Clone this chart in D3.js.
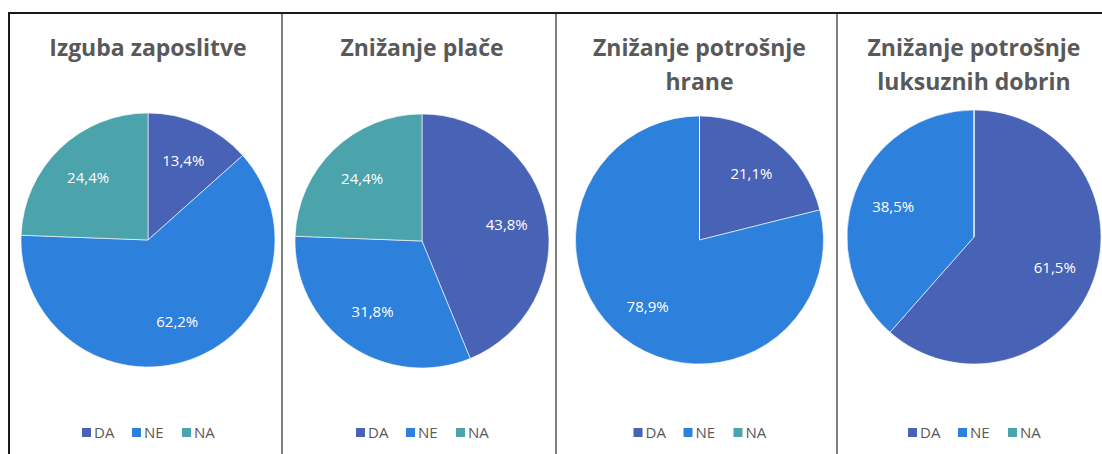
<!DOCTYPE html>
<html>
<head>
<meta charset="utf-8">
<script src="https://cdn.jsdelivr.net/npm/d3@7"></script>
<style>
  html, body { margin: 0; padding: 0; background: #fff; }
  svg { display: block; }
</style>
</head>
<body>
<div id="chart"></div>
<script>
(function() {
    'use strict';

    // data ---------------------------------------------------------
    const categories = ['DA', 'NE', 'NA'];
    const titles = [
        ['Izguba zaposlitve'],
        ['Znižanje plače'],
        ['Znižanje potrošnje', 'hrane'],
        ['Znižanje potrošnje', 'luksuznih dobrin']
    ];
    const valuesIzguba = [13.4, 62.2, 24.4];
    const valuesPlaca = [43.8, 31.8, 24.4];
    const valuesHrana = [21.1, 78.9, 0];
    const valuesLuksuz = [61.5, 38.5, 0];
    const series = [valuesIzguba, valuesPlaca, valuesHrana, valuesLuksuz];

    const colors = ['#4862b6', '#2e80dd', '#4ba3ab'];
    const width = 1102, height = 454;

    // panel edges (x)
    const edges = [8, 282, 556, 837, 1110];
    const pieCy = [240, 241, 240, 237];
    const radii = [127, 127, 124, 127];

    const svg = d3.select('#chart').append('svg')
        .attr('width', width)
        .attr('height', height);

    const color = d3.scaleOrdinal().domain(categories).range(colors);
    const pie = d3.pie().sort(null).value(d => d.value);

    series.forEach((vals, p) => {
        const x0 = edges[p], x1 = edges[p + 1];
        const cx = p === 3 ? 974 : (x0 + x1) / 2 + 3;
        const radius = radii[p];
        const arc = d3.arc().innerRadius(0).outerRadius(radius);
        const labelArc = d3.arc().innerRadius(radius * 0.68).outerRadius(radius * 0.68);
        const g = svg.append('g').attr('class', 'panel');

        // title
        const t = g.append('text')
            .attr('text-anchor', 'middle')
            .style('font-family', 'Open Sans, sans-serif')
            .style('font-weight', 'bold')
            .style('font-size', '23px')
            .style('fill', '#595959');
        titles[p].forEach((line, i) => {
            t.append('tspan')
                .attr('x', cx)
                .attr('y', 56 + i * 34)
                .text(line);
        });

        // pie
        const data = categories.map((c, i) => ({ key: c, value: vals[i] }));
        const pg = g.append('g').attr('transform', `translate(${cx},${pieCy[p]})`);
        pg.selectAll('path').data(pie(data)).enter().append('path')
            .attr('d', arc)
            .attr('fill', d => color(d.data.key))
            .attr('stroke', '#ffffff')
            .attr('stroke-opacity', 0.6)
            .attr('stroke-width', 1);

        pg.selectAll('text').data(pie(data).filter(d => d.data.value > 0)).enter().append('text')
            .attr('transform', d => `translate(${labelArc.centroid(d)})`)
            .attr('text-anchor', 'middle')
            .attr('dy', '0.35em')
            .style('font-family', 'Open Sans, sans-serif')
            .style('font-size', '15px')
            .style('fill', '#ffffff')
            .text(d => d3.format('.1f')(d.data.value).replace('.', ',') + '%');

        // legend
        const lg = g.append('g').attr('transform', `translate(${cx - 66},433)`);
        const item = lg.selectAll('g').data(categories).enter().append('g')
            .attr('transform', (d, i) => `translate(${i * 50},0)`);
        item.append('rect')
            .attr('x', 0)
            .attr('y', -5)
            .attr('width', 9)
            .attr('height', 9)
            .attr('fill', d => color(d));
        item.append('text')
            .attr('x', 12)
            .attr('dy', '0.35em')
            .style('font-family', 'Open Sans, sans-serif')
            .style('font-size', '15px')
            .style('fill', '#595959')
            .text(d => d);
    });

    // frame + dividers
    svg.append('path')
        .attr('d', `M9,${height} V13 H${width}`)
        .attr('fill', 'none')
        .attr('stroke', '#1a1a1a')
        .attr('stroke-width', 2);
    svg.selectAll('line.div').data(edges.slice(1, 4)).enter().append('line')
        .attr('class', 'div')
        .attr('x1', d => d).attr('x2', d => d)
        .attr('y1', 14).attr('y2', height)
        .attr('stroke', '#808080')
        .attr('stroke-width', 2);
}());
</script>
</body>
</html>
